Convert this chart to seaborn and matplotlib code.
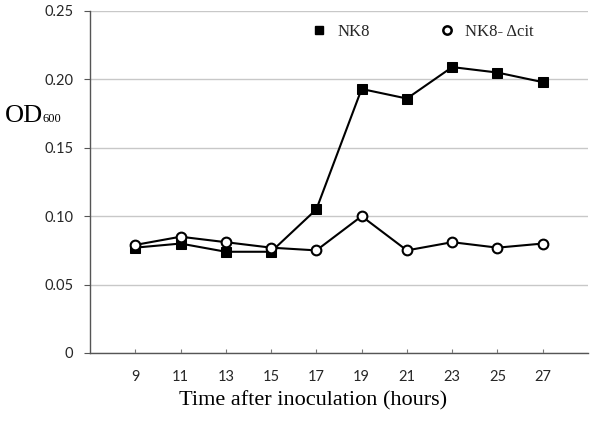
import pandas as pd
import seaborn as sns
import matplotlib.pyplot as plt
from matplotlib.lines import Line2D

hours = [9, 11, 13, 15, 17, 19, 21, 23, 25, 27]
nk8 = [0.077, 0.080, 0.074, 0.074, 0.105, 0.193, 0.186, 0.209, 0.205, 0.198]
nk8_dcit = [0.079, 0.085, 0.081, 0.077, 0.075, 0.100, 0.075, 0.081, 0.077, 0.080]

sns.set_style('white')
plt.rcParams['font.family'] = ['Lato', 'DejaVu Sans']

serif = {'family': 'Liberation Serif', 'color': 'black'}

fig = plt.figure(figsize=(6, 4.23), dpi=100)
ax = fig.add_axes([0.15, 0.1655, 0.83, 0.8085])

pos = list(range(len(hours)))
df = pd.DataFrame({'pos': pos, 'NK8': nk8, 'dcit': nk8_dcit})

sns.lineplot(data=df, x='pos', y='NK8', ax=ax, color='black', linewidth=1.5,
             marker='s', markersize=7, markerfacecolor='black',
             markeredgecolor='black')
sns.lineplot(data=df, x='pos', y='dcit', ax=ax, color='black', linewidth=1.5,
             marker='o', markersize=7, markerfacecolor='white',
             markeredgecolor='black', markeredgewidth=1.5)

ax.set_xlim(-1, 10)
ax.set_ylim(0, 0.25)
ax.set_xticks(pos)
ax.set_xticklabels([str(h) for h in hours], fontsize=10.5)
ax.tick_params(axis='x', length=3, direction='in', color='#777777', bottom=True, pad=12)
ax.set_yticks([0, 0.05, 0.10, 0.15, 0.20, 0.25])
ax.set_yticklabels(['0', '0.05', '0.10', '0.15', '0.20', '0.25'], fontsize=10.5)
ax.tick_params(axis='y', length=4, color='#555555', left=True, pad=8)

ax.yaxis.grid(True, color='#c8c8c8', linewidth=1)
ax.set_axisbelow(True)
for side in ['top', 'right']:
    ax.spines[side].set_visible(False)
for side in ['left', 'bottom']:
    ax.spines[side].set_color('#555555')
    ax.spines[side].set_linewidth(1)

ax.set_xlabel('Time after inoculation (hours)', fontdict=serif, fontsize=16)
ax.xaxis.set_label_coords(0.448, -0.11)
ax.set_ylabel('')
# OD600 label, written as two pieces to get the small subscript
fig.text(0.008, 0.712, 'OD', fontdict=serif, fontsize=19, va='baseline', ha='left')
fig.text(0.071, 0.712, '600', fontdict=serif, fontsize=9, va='baseline', ha='left')

# legend with markers only
handles = [
    Line2D([], [], linestyle='None', marker='s', markersize=6, color='black'),
    Line2D([], [], linestyle='None', marker='o', markersize=6, markerfacecolor='white',
           markeredgecolor='black', markeredgewidth=1.8),
]
ax.legend(handles, ['NK8', 'NK8- \u0394cit'], loc='upper left', bbox_to_anchor=(0.413, 1.005),
          ncol=2, frameon=False, handlelength=1.0, handletextpad=0.6, columnspacing=4.1,
          prop={'family': 'Liberation Serif', 'size': 12})

fig.savefig('out.png', dpi=100)
